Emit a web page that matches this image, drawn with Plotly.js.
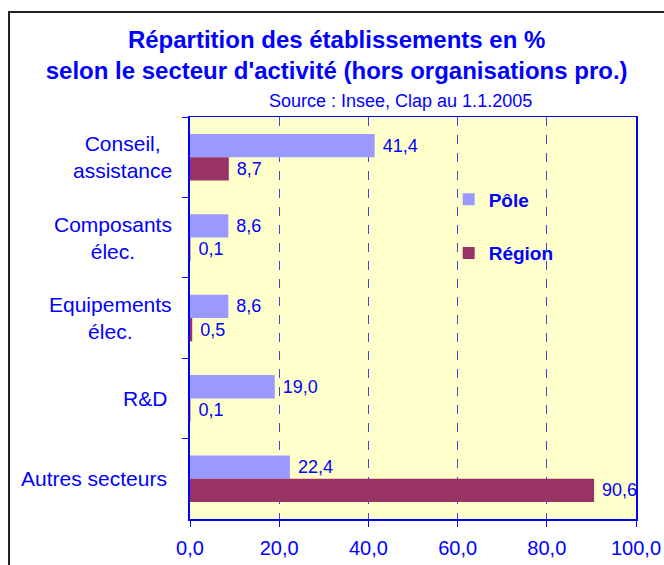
<!DOCTYPE html>
<html>
<head>
<meta charset="utf-8">
<script src="https://cdn.plot.ly/plotly-3.0.1.min.js"></script>
<style>
  html, body { margin: 0; padding: 0; background: #ffffff; }
  #frame { position: absolute; left: 8px; top: 11px; width: 700px; height: 620px; border: 2px solid #222222; }
  #chart { position: absolute; left: 0; top: 0; width: 664px; height: 565px; }
</style>
</head>
<body>
<div id="frame"></div>
<div id="chart"></div>
<script>
const categories = ['Conseil,<br>assistance', 'Composants<br>élec.', 'Equipements<br>élec.', 'R&D', 'Autres secteurs'];
const poleValues = [41.4, 8.6, 8.6, 19.0, 22.4];
const regionValues = [8.7, 0.1, 0.5, 0.1, 90.6];
const seriesNames = ['Pôle', 'Région'];
const xTicks = [0, 20, 40, 60, 80, 100];

const BLUE = '#0000FF';
const FONT = 'Liberation Sans, Arial, sans-serif';

const traces = [
  {
    type: 'bar', orientation: 'h', name: seriesNames[0], legendgroup: 'a',
    y: categories, x: poleValues,
    marker: { color: '#9999FF' },
    texttemplate: ' %{x:.1f}', textposition: 'outside', cliponaxis: false, constraintext: 'none',
    textfont: { family: FONT, size: 18, color: BLUE },
    hoverinfo: 'x+name'
  },
  {
    type: 'bar', orientation: 'h', name: seriesNames[1], legendgroup: 'b',
    y: categories, x: regionValues,
    marker: { color: '#993366' },
    texttemplate: ' %{x:.1f}', textposition: 'outside', cliponaxis: false, constraintext: 'none',
    textfont: { family: FONT, size: 18, color: BLUE },
    hoverinfo: 'x+name'
  }
];

const annotations = categories.map(c => ({
  text: c, xref: 'paper', yref: 'y', x: c.includes('<br>') ? -0.035 : -0.047, y: c,
  xanchor: 'right', yanchor: 'middle', align: 'center', showarrow: false,
  font: { family: FONT, size: 21, color: BLUE }
}));
annotations.push({
  text: 'Source : Insee, Clap au 1.1.2005', xref: 'paper', yref: 'paper',
  x: 0.471, y: 1.04, xanchor: 'center', yanchor: 'middle', showarrow: false,
  font: { family: FONT, size: 18, color: BLUE }
});

const layout = {
  width: 664, height: 565,
  paper_bgcolor: 'rgba(0,0,0,0)',
  plot_bgcolor: '#FFFFCC',
  margin: { l: 190, r: 28, t: 117, b: 46 },
  separators: ', ',
  title: {
    text: 'Répartition des établissements en %<br>selon le secteur d\'activité (hors organisations pro.)',
    font: { family: FONT, size: 24, color: BLUE, weight: 'bold' },
    xref: 'container', yref: 'container', x: 0.507, xanchor: 'center', y: 1 - 48 / 565, yanchor: 'top'
  },
  barmode: 'group', bargap: 0.42, bargroupgap: 0,
  showlegend: true,
  legend: {
    x: 0.58, y: 0.842, xanchor: 'left', yanchor: 'top',
    bgcolor: 'rgba(0,0,0,0)', traceorder: 'grouped', tracegroupgap: 26,
    font: { family: FONT, size: 19, color: BLUE, weight: 'bold' }
  },
  xaxis: {
    range: [0, 100], tickvals: xTicks, tickformat: '.1f',
    ticks: 'outside', ticklen: 6, tickcolor: BLUE, tickwidth: 1, ticklabelstandoff: 4,
    showline: true, linecolor: BLUE, linewidth: 1.5, mirror: true,
    showgrid: true, gridcolor: '#4444DD', griddash: 'dash', gridwidth: 1,
    zeroline: false, fixedrange: true,
    tickfont: { family: FONT, size: 20, color: BLUE }
  },
  yaxis: {
    type: 'category', range: [4.5, -0.5], tickson: 'boundaries',
    ticks: 'outside', ticklen: 6, tickcolor: BLUE, tickwidth: 1,
    showticklabels: false, showgrid: false, zeroline: false,
    showline: true, linecolor: BLUE, linewidth: 2, mirror: true, fixedrange: true
  },
  annotations: annotations
};

Plotly.newPlot('chart', traces, layout, { displayModeBar: false, staticPlot: true });
</script>
</body>
</html>
